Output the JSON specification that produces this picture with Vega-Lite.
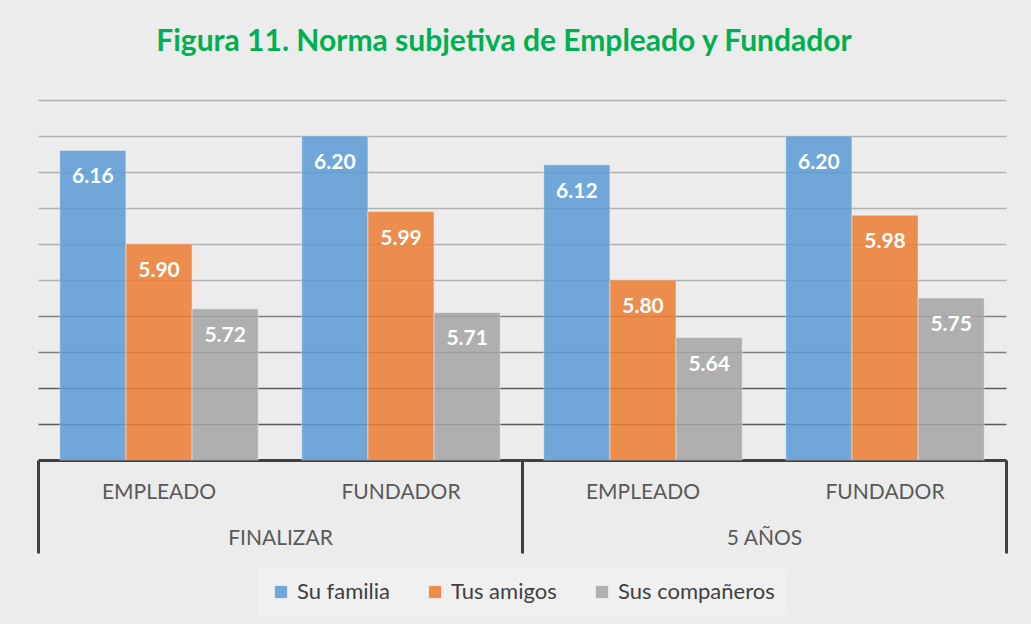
{
  "$schema": "https://vega.github.io/schema/vega-lite/v6.json",
  "autosize": {"type": "none"},
  "width": 968,
  "height": 360,
  "padding": {"left": 38, "top": 100, "right": 25, "bottom": 164},
  "background": "#ECECEC",
  "config": {
    "font": "Lato",
    "view": {"stroke": null},
    "legend": {"layout": {"bottom": {"anchor": "middle"}}}
  },
  "title": {
    "text": "Figura 11. Norma subjetiva de Empleado y Fundador",
    "font": "Lato",
    "fontSize": 30,
    "fontWeight": "bold",
    "color": "#00B050",
    "anchor": "middle",
    "frame": "group",
    "dx": -18,
    "baseline": "alphabetic",
    "offset": 19
  },
  "data": {
    "values": [
      {"grupo": "FINALIZAR", "col": "FINALIZAR|EMPLEADO", "serie": "Su familia", "valor": 6.16},
      {"grupo": "FINALIZAR", "col": "FINALIZAR|EMPLEADO", "serie": "Tus amigos", "valor": 5.90},
      {"grupo": "FINALIZAR", "col": "FINALIZAR|EMPLEADO", "serie": "Sus compañeros", "valor": 5.72},
      {"grupo": "FINALIZAR", "col": "FINALIZAR|FUNDADOR", "serie": "Su familia", "valor": 6.20},
      {"grupo": "FINALIZAR", "col": "FINALIZAR|FUNDADOR", "serie": "Tus amigos", "valor": 5.99},
      {"grupo": "FINALIZAR", "col": "FINALIZAR|FUNDADOR", "serie": "Sus compañeros", "valor": 5.71},
      {"grupo": "5 AÑOS", "col": "5 AÑOS|EMPLEADO", "serie": "Su familia", "valor": 6.12},
      {"grupo": "5 AÑOS", "col": "5 AÑOS|EMPLEADO", "serie": "Tus amigos", "valor": 5.80},
      {"grupo": "5 AÑOS", "col": "5 AÑOS|EMPLEADO", "serie": "Sus compañeros", "valor": 5.64},
      {"grupo": "5 AÑOS", "col": "5 AÑOS|FUNDADOR", "serie": "Su familia", "valor": 6.20},
      {"grupo": "5 AÑOS", "col": "5 AÑOS|FUNDADOR", "serie": "Tus amigos", "valor": 5.98},
      {"grupo": "5 AÑOS", "col": "5 AÑOS|FUNDADOR", "serie": "Sus compañeros", "valor": 5.75}
    ]
  },
  "layer": [
    {
      "layer": [
        {
          "mark": {"type": "bar", "fillOpacity": 0.85, "stroke": "#FFFFFF", "strokeOpacity": 0.4, "strokeWidth": 1},
          "encoding": {
            "x": {
              "field": "col", "type": "nominal", "sort": null,
              "scale": {"paddingInner": 0.18, "paddingOuter": 0.09},
              "axis": {
                "orient": "bottom", "title": null, "ticks": false, "domain": true,
                "domainColor": "#404040", "domainWidth": 3,
                "labelExpr": "split(datum.value, '|')[1]",
                "labelFont": "Lato", "labelFontSize": 21, "labelColor": "#595959",
                "labelAngle": 0, "labelBaseline": "middle", "labelPadding": 32, "grid": false
              }
            },
            "xOffset": {
              "field": "serie", "type": "nominal",
              "sort": ["Su familia", "Tus amigos", "Sus compañeros"],
              "scale": {"paddingInner": 0, "paddingOuter": 0}
            },
            "y": {
              "field": "valor", "type": "quantitative",
              "scale": {"domain": [5.3, 6.3], "nice": false, "zero": false},
              "axis": {
                "title": null, "labels": false, "ticks": false, "domain": false, "grid": true,
                "values": [5.4, 5.5, 5.6, 5.7, 5.8, 5.9, 6.0, 6.1, 6.2, 6.3],
                "tickCount": 20,
                "labelOverlap": false,
                "gridWidth": 1.5,
                "gridColor": {
                  "condition": [
                    {"test": "datum.value < 5.55", "value": "#5A5A5A"},
                    {"test": "datum.value < 5.75", "value": "#808080"}
                  ],
                  "value": "#B0B0B0"
                }
              }
            },
            "y2": {"datum": 5.3},
            "color": {
              "field": "serie", "type": "nominal",
              "sort": ["Su familia", "Tus amigos", "Sus compañeros"],
              "scale": {"domain": ["Su familia", "Tus amigos", "Sus compañeros"], "range": ["#5B9BD5", "#ED7D31", "#A5A5A5"]},
              "legend": {
                "orient": "bottom", "direction": "horizontal", "title": null,
                "symbolType": "square", "symbolSize": 150, "symbolOpacity": 0.85,
                "symbolStrokeWidth": 0,
                "labelFont": "Lato", "labelFontSize": 22, "labelColor": "#404040",
                "labelOffset": 5, "columnPadding": 34,
                "fillColor": "#F0F0F0", "padding": 12, "offset": 14
              }
            }
          }
        },
        {
          "mark": {"type": "text", "baseline": "middle", "dy": 27, "font": "Lato", "fontWeight": "bold", "fontSize": 21, "color": "#FFFFFF"},
          "encoding": {
            "x": {"field": "col", "type": "nominal", "sort": null},
            "xOffset": {"field": "serie", "type": "nominal", "sort": ["Su familia", "Tus amigos", "Sus compañeros"]},
            "y": {"field": "valor", "type": "quantitative"},
            "text": {"field": "valor", "type": "quantitative", "format": ".2f"}
          }
        }
      ]
    },
    {
      "mark": {"type": "rule", "strokeOpacity": 0},
      "encoding": {
        "x": {
          "field": "grupo", "type": "nominal", "sort": null,
          "scale": {"type": "band", "paddingInner": 0, "paddingOuter": 0},
          "axis": {
            "orient": "bottom", "title": null, "domain": false, "ticks": true,
            "tickBand": "extent", "tickSize": 93, "tickWidth": 3, "tickColor": "#404040",
            "labelFont": "Lato", "labelFontSize": 21, "labelColor": "#595959",
            "labelAngle": 0, "labelBaseline": "middle", "labelPadding": -15, "grid": false
          }
        }
      }
    }
  ],
  "resolve": {"scale": {"x": "independent"}, "axis": {"x": "independent"}}
}
